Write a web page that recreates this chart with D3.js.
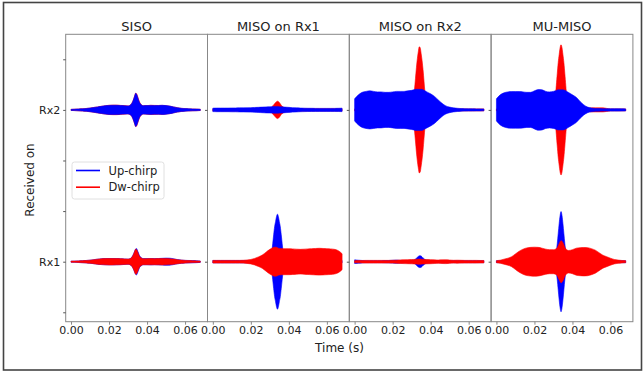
<!DOCTYPE html>
<html>
<head>
<meta charset="utf-8">
<script src="https://cdn.jsdelivr.net/npm/d3@7"></script>
<style>
  html, body { margin: 0; padding: 0; background: #fff; }
  svg { display: block; font-family: "DejaVu Sans", sans-serif; }
</style>
</head>
<body>
<svg id="chart" width="643" height="377"></svg>
<script>
// ---- data ----
const panels = ["SISO", "MISO on Rx1", "MISO on Rx2", "MU-MISO"];
const receivers = ["Rx1", "Rx2"];
const rxOffsets = [0, 3];
const yTicks = [-1, 0, 1, 2, 3, 4];
const xTicks = [0, 0.02, 0.04, 0.06];
const xTickLabels = ["0.00", "0.02", "0.04", "0.06"];
const seriesNames = ["Up-chirp", "Dw-chirp"];

// sample times (s) of the envelope values below
const time = [0, .002, .004, .006, .008, .010, .012, .014, .016, .018, .020, .022, .024, .026, .028, .030,
  .031, .032, .0325, .033, .0335, .034, .0345, .035, .0355, .036, .037, .038,
  .040, .042, .044, .046, .048, .050, .052, .054, .056, .058, .060, .062, .064, .066, .068];

// envelope amplitudes (same units as the y axis)
const sisoRx2Up = [.010,.014,.018,.022,.028,.036,.048,.059,.071,.083,.089,.091,.091,.087,.083,.079,
  .089,.129,.168,.218,.277,.327,.307,.257,.198,.149,.099,.083,
  .085,.089,.085,.087,.091,.085,.075,.059,.044,.032,.026,.022,.018,.016,.012];
const sisoRx2Dw = [.010,.014,.018,.022,.028,.036,.048,.059,.071,.083,.091,.095,.095,.089,.085,.079,
  .089,.129,.170,.220,.280,.330,.320,.270,.210,.160,.100,.083,
  .085,.091,.089,.087,.089,.083,.073,.057,.042,.030,.024,.020,.018,.016,.012];
const sisoRx1Up = [.010,.012,.016,.020,.024,.030,.040,.050,.057,.061,.063,.063,.061,.059,.055,.051,
  .059,.089,.120,.160,.210,.250,.260,.220,.170,.120,.080,.061,
  .061,.063,.061,.063,.067,.071,.069,.057,.042,.032,.026,.024,.022,.020,.014];
const sisoRx1Dw = [.010,.012,.016,.020,.024,.030,.040,.050,.057,.061,.063,.063,.061,.059,.055,.051,
  .059,.089,.119,.158,.208,.248,.238,.198,.149,.109,.075,.059,
  .059,.061,.059,.061,.063,.061,.057,.051,.040,.032,.026,.022,.018,.016,.012];

const miso1Rx2Up = [.034,.036,.036,.036,.036,.038,.038,.040,.040,.042,.044,.048,.051,.055,.059,.061,
  .063,.065,.065,.065,.065,.065,.065,.063,.063,.061,.059,.055,
  .050,.044,.040,.036,.034,.032,.032,.030,.030,.030,.030,.030,.030,.032,.034];
const miso1Rx2Dw = [.020,.020,.020,.022,.022,.022,.024,.024,.024,.024,.026,.028,.030,.032,.034,.040,
  .059,.099,.123,.145,.162,.172,.164,.145,.119,.091,.059,.040,
  .030,.026,.024,.024,.024,.022,.022,.022,.022,.022,.022,.022,.022,.022,.022];
const miso1Rx1Up = [.024,.024,.024,.024,.024,.024,.024,.024,.024,.024,.024,.024,.024,.024,.024,.060,
  .200,.530,.690,.790,.890,.940,.890,.790,.690,.530,.200,.060,
  .024,.024,.024,.024,.024,.024,.024,.024,.024,.024,.024,.024,.024,.024,.024];
const miso1Rx1Dw = [.026,.026,.026,.026,.026,.026,.026,.026,.028,.034,.044,.065,.095,.131,.188,.244,
  .265,.283,.287,.287,.283,.277,.267,.263,.261,.259,.257,.257,
  .257,.253,.248,.244,.248,.253,.257,.261,.265,.261,.257,.253,.244,.218,.158];

const miso2Rx2Up = [.218,.297,.347,.366,.376,.366,.356,.356,.347,.347,.356,.366,.366,.366,.376,.386,
  .396,.406,.406,.406,.406,.406,.406,.406,.406,.396,.376,.356,
  .317,.267,.198,.129,.079,.055,.040,.032,.026,.024,.022,.022,.020,.020,.018];
const miso2Rx2Dw = [.020,.020,.020,.020,.020,.020,.020,.020,.020,.020,.020,.020,.020,.020,.020,.059,
  .228,.614,.832,1.010,1.148,1.247,1.228,1.109,.970,.792,.356,.119,
  .020,.020,.020,.020,.020,.020,.020,.020,.020,.020,.020,.020,.020,.020,.020];
const miso2Rx1Up = [.036,.030,.024,.020,.020,.020,.020,.020,.022,.024,.028,.032,.026,.022,.022,.024,
  .030,.050,.069,.089,.105,.115,.117,.111,.095,.075,.044,.030,
  .022,.020,.020,.022,.024,.020,.020,.020,.020,.020,.020,.020,.020,.020,.020];
const miso2Rx1Dw = [.020,.022,.024,.026,.026,.026,.026,.026,.026,.026,.028,.030,.034,.038,.040,.042,
  .044,.046,.048,.050,.051,.051,.051,.050,.048,.046,.044,.042,
  .040,.036,.032,.036,.038,.032,.028,.030,.028,.026,.026,.026,.026,.024,.024];

const muRx2Up = [.218,.297,.337,.356,.362,.362,.362,.356,.347,.347,.376,.402,.396,.366,.356,.366,
  .376,.392,.396,.396,.396,.396,.396,.396,.392,.386,.366,.343,
  .297,.248,.168,.099,.055,.036,.028,.026,.024,.024,.024,.024,.024,.022,.020];
const muRx2Dw = [.020,.020,.020,.020,.020,.020,.020,.020,.020,.020,.020,.020,.020,.020,.020,.079,
  .277,.713,.931,1.089,1.228,1.287,1.228,1.089,.931,.713,.277,.079,
  .020,.020,.020,.020,.030,.040,.040,.040,.040,.030,.020,.020,.020,.020,.020];
const muRx1Up = [.020,.020,.020,.020,.020,.020,.020,.020,.020,.020,.020,.020,.020,.020,.020,.020,
  .099,.356,.554,.752,.911,.990,.911,.752,.554,.356,.099,.020,
  .020,.020,.020,.020,.020,.020,.020,.020,.020,.020,.020,.020,.020,.020,.020];
const muRx1Dw = [.020,.030,.050,.069,.099,.154,.208,.248,.273,.283,.287,.283,.267,.248,.238,.238,
  .248,.277,.317,.356,.396,.416,.406,.376,.337,.287,.238,.222,
  .238,.267,.277,.281,.277,.257,.228,.178,.129,.099,.069,.044,.032,.024,.020];

// [panel][receiver] -> [up, dw]
const envelopes = [
  [[sisoRx1Up, sisoRx1Dw], [sisoRx2Up, sisoRx2Dw]],
  [[miso1Rx1Up, miso1Rx1Dw], [miso1Rx2Up, miso1Rx2Dw]],
  [[miso2Rx1Up, miso2Rx1Dw], [miso2Rx2Up, miso2Rx2Dw]],
  [[muRx1Up, muRx1Dw], [muRx2Up, muRx2Dw]]
];

// ---- layout ----
const colors = { "Up-chirp": "#0000ff", "Dw-chirp": "#ff0000" };
const plotLeft = 65.7, plotTop = 34.3, pw = 141.8, ph = 287.4;
const axisColor = "#888", textColor = "#222";

const svg = d3.select("#chart");

// outer frame
svg.append("rect")
  .attr("x", 3.5).attr("y", 2.5).attr("width", 638).attr("height", 367.5)
  .attr("fill", "none").attr("stroke", "#444").attr("stroke-width", 1.6);

const x = d3.scaleLinear().domain([-0.0028, 0.0718]).range([0, pw]);
const y = d3.scaleLinear().domain([-1.186, 4.494]).range([ph, 0]);

panels.forEach((name, p) => {
  const g = svg.append("g").attr("transform", "translate(" + (plotLeft + p * pw) + "," + plotTop + ")");

  // receivers: Rx2 row puts Up-chirp on top, Rx1 row puts Dw-chirp on top
  receivers.forEach((rx, r) => {
    const off = rxOffsets[r];
    const order = r === 1 ? [1, 0] : [0, 1];
    order.forEach(s => {
      const amp = envelopes[p][r][s];
      const pts = time.map((t, i) => ({ t: t, a: amp[i] }));
      const area = d3.area()
        .x(d => x(d.t))
        .y0(d => y(off - d.a))
        .y1(d => y(off + d.a))
        .curve(d3.curveMonotoneX);
      g.append("path")
        .attr("d", area(pts))
        .attr("fill", colors[seriesNames[s]])
        .attr("stroke", colors[seriesNames[s]])
        .attr("stroke-width", 0.6);
    });
  });

  // frame
  g.append("rect").attr("width", pw).attr("height", ph)
    .attr("fill", "none").attr("stroke", axisColor).attr("stroke-width", 1);

  // x axis
  const xAxis = d3.axisBottom(x).tickValues(xTicks)
    .tickFormat((d, i) => xTickLabels[i]).tickSize(3).tickPadding(2);
  const xa = g.append("g").attr("transform", "translate(0," + ph + ")").call(xAxis);
  xa.select(".domain").remove();
  xa.selectAll("line").attr("stroke", axisColor);
  xa.selectAll("text").attr("fill", textColor).attr("font-size", 11)
    .attr("font-family", "DejaVu Sans");

  // y axis
  const yAxis = d3.axisLeft(y)
    .tickValues(p === 0 ? yTicks : rxOffsets)
    .tickFormat(d => p === 0 ? (d === 0 ? "Rx1" : d === 3 ? "Rx2" : "") : "")
    .tickSize(2.5).tickPadding(3);
  const ya = g.append("g").call(yAxis);
  ya.select(".domain").remove();
  ya.selectAll("line").attr("stroke", "#555");
  ya.selectAll("text").attr("fill", textColor).attr("font-size", 11)
    .attr("font-family", "DejaVu Sans");

  // title
  g.append("text").attr("x", pw / 2).attr("y", -3)
    .attr("text-anchor", "middle").attr("font-size", 13).attr("fill", textColor)
    .text(name);
});

// axis labels
svg.append("text").attr("x", 339.5).attr("y", 352)
  .attr("text-anchor", "middle").attr("font-size", 12).attr("fill", textColor)
  .text("Time (s)");
svg.append("text").attr("transform", "translate(33.5,180) rotate(-90)")
  .attr("text-anchor", "middle").attr("font-size", 12).attr("fill", textColor)
  .text("Received on");

// legend
const lg = svg.append("g").attr("transform", "translate(72,162)");
lg.append("rect").attr("width", 92).attr("height", 37).attr("rx", 2.5)
  .attr("fill", "#fff").attr("fill-opacity", 0.8)
  .attr("stroke", "#d8d8d8").attr("stroke-width", 0.8);
seriesNames.forEach((s, i) => {
  lg.append("line").attr("x1", 4).attr("x2", 28)
    .attr("y1", 8.5 + i * 16.7).attr("y2", 8.5 + i * 16.7)
    .attr("stroke", colors[s]).attr("stroke-width", 1.6);
  lg.append("text").attr("x", 36.5).attr("y", 12.6 + i * 16.7)
    .attr("font-size", 11.5).attr("fill", textColor).text(s);
});
</script>
</body>
</html>
